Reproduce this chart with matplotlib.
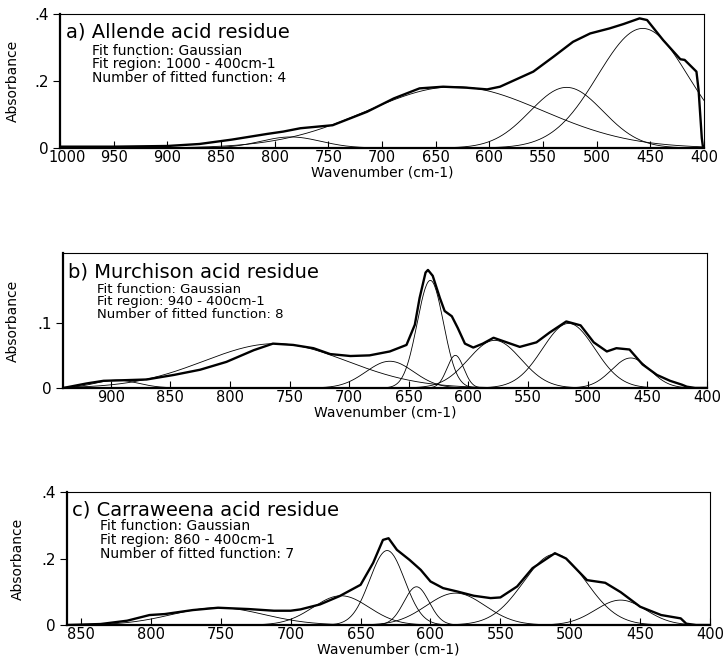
import numpy as np
import matplotlib
matplotlib.use("Agg")
import matplotlib.pyplot as plt
from matplotlib.transforms import ScaledTranslation

a_wn = [1000, 950, 900, 870, 840, 807, 792, 776, 746, 714, 689, 665, 643, 621,
        602, 590, 559, 540, 522, 506, 488, 475, 460, 453, 438, 422, 418, 407,
        405, 402, 401, 400]
a_abs = [0.004, 0.004, 0.006, 0.012, 0.025, 0.042, 0.049, 0.059, 0.068, 0.108,
         0.148, 0.178, 0.183, 0.180, 0.175, 0.183, 0.228, 0.273, 0.317, 0.342,
         0.357, 0.370, 0.387, 0.382, 0.322, 0.265, 0.263, 0.228, 0.173, 0.029,
         0.005, 0.005]
# fitted gaussians: centre, height, sigma
a_centers = [785, 632, 528, 457]
a_heights = [0.033, 0.183, 0.181, 0.357]
a_sigmas = [28, 82, 34, 42]

# ---- panel b: Murchison ----
b_wn = [940, 937, 920, 906, 887, 870, 847, 825, 803, 780, 764, 747, 730, 716,
        699, 683, 666, 652, 645, 641, 636, 634, 630, 624, 620, 614, 609, 603,
        596, 588, 579, 568, 557, 543, 532, 518, 506, 495, 484, 476, 465, 454,
        442, 431, 421, 417, 410, 400]
b_abs = [0.000, 0.001, 0.007, 0.011, 0.012, 0.013, 0.020, 0.028, 0.040, 0.058,
         0.068, 0.066, 0.061, 0.052, 0.049, 0.050, 0.056, 0.066, 0.097, 0.138,
         0.177, 0.181, 0.172, 0.138, 0.118, 0.110, 0.092, 0.068, 0.062, 0.068,
         0.077, 0.070, 0.063, 0.070, 0.085, 0.102, 0.096, 0.070, 0.056, 0.061,
         0.059, 0.036, 0.020, 0.011, 0.005, 0.002, 0.000, 0.000]
b_centers = [895, 762, 666, 632, 611, 578, 516, 464]
b_heights = [0.012, 0.068, 0.041, 0.165, 0.050, 0.073, 0.099, 0.046]
b_sigmas = [18, 60, 20, 11, 7, 22, 22, 16]

# ---- panel c: Carraweena ----
c_wn = [860, 836, 817, 801, 790, 770, 752, 730, 712, 700, 693, 679, 665, 650,
        641, 634, 630, 624, 615, 607, 600, 591, 581, 569, 557, 550, 538, 527,
        511, 503, 488, 475, 464, 450, 435, 421, 417, 410, 400]
c_abs = [0.000, 0.003, 0.013, 0.030, 0.033, 0.045, 0.052, 0.048, 0.043, 0.043,
         0.047, 0.062, 0.087, 0.121, 0.187, 0.256, 0.261, 0.226, 0.196, 0.166,
         0.131, 0.111, 0.101, 0.088, 0.081, 0.083, 0.116, 0.171, 0.216, 0.200,
         0.135, 0.127, 0.099, 0.055, 0.030, 0.020, 0.004, 0.000, 0.000]
c_centers = [752, 664, 631, 610, 582, 511, 464]
c_heights = [0.052, 0.088, 0.224, 0.115, 0.096, 0.213, 0.075]
c_sigmas = [33, 20, 12.5, 9, 21, 22.5, 18]

titles = ["a) Allende acid residue", "b) Murchison acid residue",
          "c) Carraweena acid residue"]
fit_regions = ["1000 - 400cm-1", "940 - 400cm-1", "860 - 400cm-1"]
n_fitted = [4, 8, 7]

a_xticks = [1000, 950, 900, 850, 800, 750, 700, 650, 600, 550, 500, 450, 400]
b_xticks = [900, 850, 800, 750, 700, 650, 600, 550, 500, 450, 400]
c_xticks = [850, 800, 750, 700, 650, 600, 550, 500, 450, 400]
a_yticks = [0, 0.2, 0.4]
b_yticks = [0, 0.1]
c_yticks = [0, 0.2, 0.4]
a_ylabels = ["0", ".2", ".4"]
b_ylabels = ["0", ".1"]
c_ylabels = ["0", ".2", ".4"]


def gauss(x, c, h, s):
    return h * np.exp(-(x - c) ** 2 / (2 * s ** 2))


def draw_panel(ax, wn, ab, centers, heights, sigmas, xstart, ylim,
               xticks, yticks, ylabels, idx, txt_pos, ylab_x, sub_fs):
    x = np.linspace(xstart, 400, 800)
    for c, h, s in zip(centers, heights, sigmas):
        ax.plot(x, gauss(x, c, h, s), color="black", lw=0.6)
    ax.plot(wn, ab, color="black", lw=1.7, solid_joinstyle="round")
    ax.set_xlim(xstart, 400)
    ax.set_ylim(*ylim)
    ax.set_xticks(xticks)
    ax.set_xticklabels([str(t) for t in xticks], fontsize=10.5)
    ax.set_yticks(yticks)
    ax.set_yticklabels(ylabels, fontsize=11)
    ax.tick_params(axis="x", direction="in", length=5, width=0.8, pad=1.5)
    ax.tick_params(axis="y", direction="out", length=5, width=0.8, pad=3)
    for side in ["top", "right"]:
        ax.spines[side].set_linewidth(0.8)
    for side in ["bottom", "left"]:
        ax.spines[side].set_linewidth(1.6)
    ax.set_xlabel("Wavenumber (cm-1)", fontsize=10, labelpad=0.5)
    ax.set_ylabel("Absorbance", fontsize=10)
    ax.yaxis.set_label_coords(ylab_x, 0.5)
    tx, ty, sx, sy, dy = txt_pos
    ax.text(tx, ty, titles[idx], transform=ax.transAxes, fontsize=14)
    lines = ["Fit function: Gaussian", "Fit region: " + fit_regions[idx],
             "Number of fitted function: " + str(n_fitted[idx])]
    for k, line in enumerate(lines):
        ax.text(sx, sy - k * dy, line, transform=ax.transAxes, fontsize=sub_fs)


fig = plt.figure(figsize=(7.27, 6.64), dpi=100)
ax1 = fig.add_axes([0.0825, 0.7771, 0.8858, 0.2018])
ax2 = fig.add_axes([0.0867, 0.4157, 0.8858, 0.2033])
ax3 = fig.add_axes([0.0922, 0.0587, 0.8845, 0.2003])

draw_panel(ax1, a_wn, a_abs, a_centers, a_heights, a_sigmas, 1000, (0, 0.4),
           a_xticks, a_yticks, a_ylabels, 0,
           (0.009, 0.828, 0.049, 0.694, 0.099), -0.062, 10)
draw_panel(ax2, b_wn, b_abs, b_centers, b_heights, b_sigmas, 940, (0, 0.207),
           b_xticks, b_yticks, b_ylabels, 1,
           (0.008, 0.822, 0.053, 0.704, 0.093), -0.067, 9.5)
draw_panel(ax3, c_wn, c_abs, c_centers, c_heights, c_sigmas, 860, (0, 0.4),
           c_xticks, c_yticks, c_ylabels, 2,
           (0.008, 0.827, 0.051, 0.714, 0.105), -0.065, 10)

# the "1000" label sits a little right of its tick in the original
first = ax1.get_xticklabels()[0]
first.set_transform(first.get_transform() +
                    ScaledTranslation(7 / 100, 0, fig.dpi_scale_trans))

fig.savefig("out.png", dpi=100)
